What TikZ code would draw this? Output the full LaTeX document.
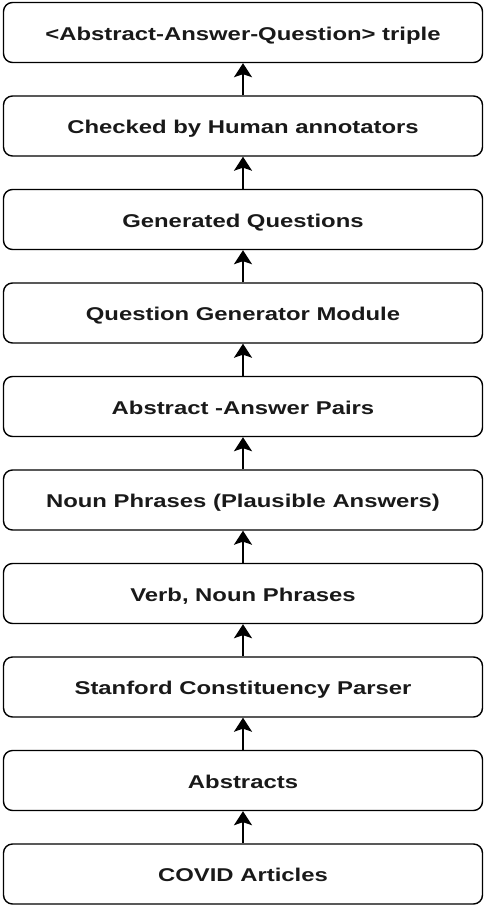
\documentclass[tikz,border=0pt]{standalone}
\usepackage{fontspec}
\setmainfont{Liberation Sans}
\newfontfamily\boxfont[FakeStretch=1.29]{Liberation Sans}
\usetikzlibrary{arrows.meta}
\begin{document}
\begin{tikzpicture}[x=1pt,y=-1pt,
  stagebox/.style={draw=black,line width=1.4pt,rounded corners=9pt,minimum width=479pt,minimum height=60pt,inner sep=0pt,text height=15pt,text depth=0pt,font=\boxfont\bfseries\fontsize{18.5}{20}\selectfont,text=black!90},
  flowarrow/.style={line width=1.4pt,-{Stealth[length=14pt,width=18pt,inset=3pt]}}]
\useasboundingbox (0,0) rectangle (486,906);
\foreach \n/\t [count=\i from 0] in {b0/{<Abstract-Answer-Question> triple},b1/{Checked by Human annotators},b2/{Generated Questions},b3/{Question Generator Module},b4/{Abstract -Answer Pairs},b5/{Noun Phrases (Plausible Answers)},b6/{Verb, Noun Phrases},b7/{Stanford Constituency Parser},b8/{Abstracts},b9/{COVID Articles}}
  \node[stagebox] (\n) at (243,{32.5+93.5*\i}) {\t};
\foreach \a/\b in {b1/b0,b2/b1,b3/b2,b4/b3,b5/b4,b6/b5,b7/b6,b8/b7,b9/b8}
  \draw[flowarrow] (\a.north) -- (\b.south);
\end{tikzpicture}
\end{document}
